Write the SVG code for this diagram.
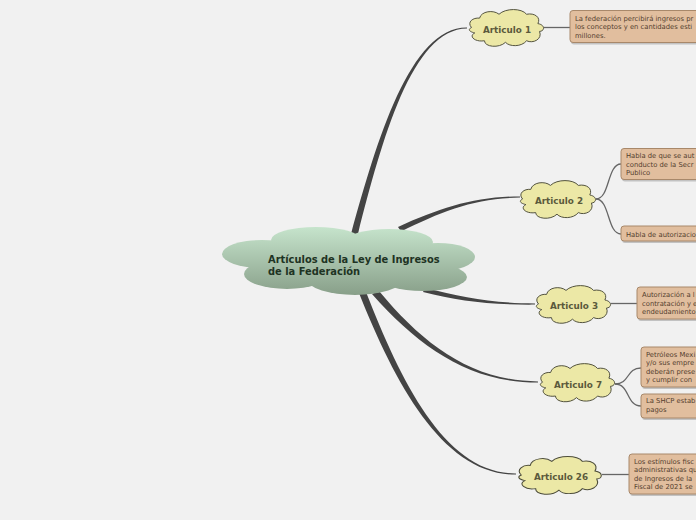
<svg xmlns="http://www.w3.org/2000/svg" width="696" height="520" viewBox="0 0 696 520">
<defs>
<linearGradient id="cg" gradientUnits="userSpaceOnUse" x1="0" y1="227" x2="0" y2="295">
<stop offset="0" stop-color="#c6e4cc"/>
<stop offset="1" stop-color="#889f89"/>
</linearGradient>
<path id="cloud" d="M8,25 C2,18 10,12 18,13 C20,4 35,2 42,8 C50,0 70,0 76,8 C86,6 94,12 90,20 C100,22 98,30 92,30 C96,40 84,46 76,42 C70,50 55,50 50,44 C42,52 24,50 24,42 C12,44 4,36 12,32 C4,30 4,27 8,25 Z"/>
</defs>
<style>
.bg{fill:#f1f1f1}
.main{fill:#444}
.sub{fill:none;stroke:#666;stroke-width:1.3}
.cl{fill:#ece8a6;stroke:#4d4d3a;stroke-width:1.2;vector-effect:non-scaling-stroke}
.al{font-family:"DejaVu Sans",Verdana,sans-serif;font-weight:bold;font-size:8.8px;fill:#5b5a3c;text-anchor:middle}
.box{fill:#e1be9e;stroke:#a8886a;stroke-width:1}
.sh{fill:#9a9a9a;opacity:0.55}
.bt{font-family:"DejaVu Sans",Verdana,sans-serif;font-size:6.8px;fill:#54402e}
.ct{font-family:"DejaVu Sans",Verdana,sans-serif;font-weight:bold;font-size:9.9px;fill:#1e3323}
</style>
<rect class="bg" x="0" y="0" width="696" height="520"/>
<g id="connectors">
<path class="main" d="M351,234 C377,140 410,27 467,27.4 L467,28.6 C412,29 382,140 358,234 Z"/>
<path class="main" d="M398,227 C440,208 475,196.4 520,196.4 L520,197.6 C475,198 442,211 401,231.5 Z"/>
<path class="main" d="M425,288 C462,297 492,303.4 535,303.4 L535,304.6 C490,305 458,301 423,292 Z"/>
<path class="main" d="M372,294 C419,347 469,382.6 538,382.6 L538,381.4 C471,381 423,344 379,291 Z"/>
<path class="main" d="M359,293 C396,386 444,475 516,474.6 L516,473.4 C446,474 402,384 366,292 Z"/>
<line class="sub" x1="544" y1="27.5" x2="570" y2="27.5"/>
<path class="sub" d="M596,199 C610,199 607,164 621,164"/>
<path class="sub" d="M596,199 C610,199 607,234 621,234"/>
<line class="sub" x1="611" y1="303.5" x2="637" y2="303.5"/>
<path class="sub" d="M615,384 C630,384 626,368 641,368"/>
<path class="sub" d="M615,384 C630,384 626,406 641,406"/>
<line class="sub" x1="602" y1="474.5" x2="629" y2="474.5"/>
</g>
<g id="central">
<g fill="url(#cg)">
<ellipse cx="262" cy="254" rx="40" ry="14"/>
<ellipse cx="316" cy="240" rx="45" ry="13"/>
<ellipse cx="389" cy="242" rx="44" ry="13"/>
<ellipse cx="438" cy="257" rx="37" ry="14"/>
<ellipse cx="287" cy="274" rx="43" ry="15"/>
<ellipse cx="355" cy="280" rx="47" ry="15"/>
<ellipse cx="423" cy="277" rx="44" ry="14"/>
<rect x="262" y="245" width="178" height="35"/>
</g>
<text class="ct" x="268" y="263">Artículos de la Ley de Ingresos</text>
<text class="ct" x="268" y="275">de la Federación</text>
</g>
<g id="art1">
<use href="#cloud" class="cl" transform="translate(465,8) scale(0.81,0.78)"/>
<text class="al" x="507" y="33">Articulo 1</text>
</g>
<g id="art2">
<use href="#cloud" class="cl" transform="translate(516,179) scale(0.82,0.8)"/>
<text class="al" x="559" y="204">Articulo 2</text>
</g>
<g id="art3">
<use href="#cloud" class="cl" transform="translate(532,284) scale(0.81,0.8)"/>
<text class="al" x="574" y="309">Articulo 3</text>
</g>
<g id="art7">
<use href="#cloud" class="cl" transform="translate(536,362) scale(0.81,0.81)"/>
<text class="al" x="578" y="388">Articulo 7</text>
</g>
<g id="art26">
<use href="#cloud" class="cl" transform="translate(514,455) scale(0.9,0.8)"/>
<text class="al" x="561" y="480">Articulo 26</text>
</g>
<g id="box1">
<rect class="sh" x="571" y="11.5" width="140" height="33" rx="3"/>
<rect class="box" x="570" y="10.5" width="140" height="32" rx="3"/>
<text class="bt" x="575" y="20.5">La federación percibirá ingresos pr</text>
<text class="bt" x="575" y="29">los conceptos y en cantidades esti</text>
<text class="bt" x="575" y="37.5">millones.</text>
</g>
<g id="box2a">
<rect class="sh" x="622" y="149.5" width="90" height="32" rx="3"/>
<rect class="box" x="621" y="148.5" width="90" height="31" rx="3"/>
<text class="bt" x="626" y="158">Habla de que se aut</text>
<text class="bt" x="626" y="166.5">conducto de la Secr</text>
<text class="bt" x="626" y="175">Publico</text>
</g>
<g id="box2b">
<rect class="sh" x="622" y="227" width="90" height="16" rx="3"/>
<rect class="box" x="621" y="226" width="90" height="15" rx="3"/>
<text class="bt" x="626" y="236.5">Habla de autorizacio</text>
</g>
<g id="box3">
<rect class="sh" x="638" y="288" width="80" height="33" rx="3"/>
<rect class="box" x="637" y="287" width="80" height="32" rx="3"/>
<text class="bt" x="642" y="297">Autorización a l</text>
<text class="bt" x="642" y="305.5">contratación y e</text>
<text class="bt" x="642" y="314">endeudamiento</text>
</g>
<g id="box7a">
<rect class="sh" x="642" y="348" width="80" height="41" rx="3"/>
<rect class="box" x="641" y="347" width="80" height="40" rx="3"/>
<text class="bt" x="646" y="356.5">Petróleos Mexi</text>
<text class="bt" x="646" y="365">y/o sus empre</text>
<text class="bt" x="646" y="373.5">deberán prese</text>
<text class="bt" x="646" y="382">y cumplir con</text>
</g>
<g id="box7b">
<rect class="sh" x="642" y="395" width="80" height="25" rx="3"/>
<rect class="box" x="641" y="394" width="80" height="24" rx="3"/>
<text class="bt" x="646" y="403">La SHCP estab</text>
<text class="bt" x="646" y="412">pagos</text>
</g>
<g id="box26">
<rect class="sh" x="630" y="455" width="90" height="41" rx="3"/>
<rect class="box" x="629" y="454" width="90" height="40" rx="3"/>
<text class="bt" x="634" y="463.5">Los estímulos fisc</text>
<text class="bt" x="634" y="472">administrativas qu</text>
<text class="bt" x="634" y="480.5">de Ingresos de la</text>
<text class="bt" x="634" y="489">Fiscal de 2021 se</text>
</g>
</svg>
